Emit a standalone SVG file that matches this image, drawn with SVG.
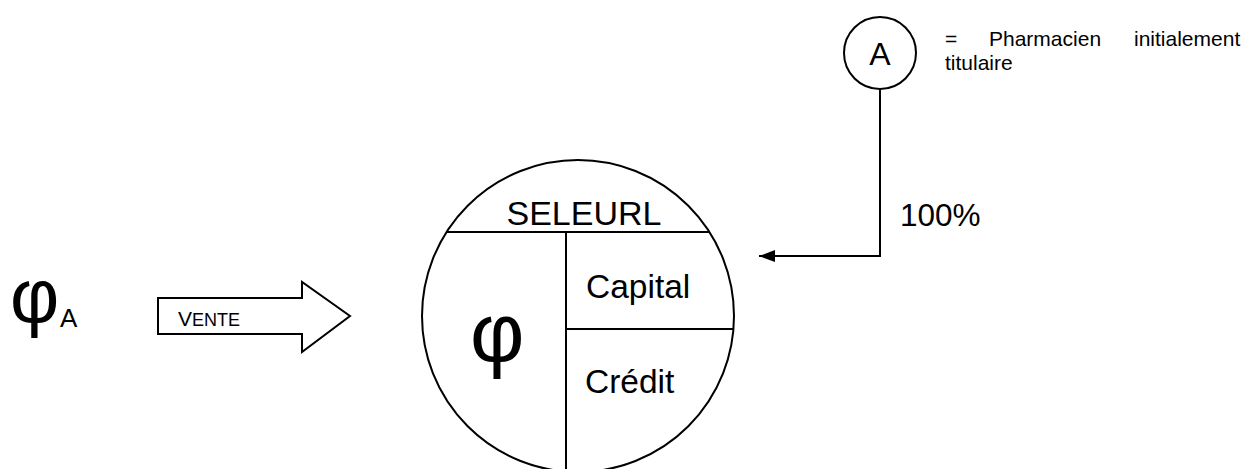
<svg xmlns="http://www.w3.org/2000/svg" width="1247" height="469" viewBox="0 0 1247 469">
<style>
text{font-family:"Liberation Sans",Arial,sans-serif;fill:#000}
.ln{fill:none;stroke:#000;stroke-width:2}
</style>
<defs>
<marker id="ah" markerWidth="16" markerHeight="12" refX="16" refY="6" orient="auto" markerUnits="userSpaceOnUse">
<path d="M0,0 L16,6 L0,12 Z" fill="#000"/>
</marker>
</defs>
<rect width="1247" height="469" fill="#fff"/>
<g id="phiA">
<text x="10" y="322" font-size="76">φ</text>
<text x="60" y="327" font-size="26">A</text>
</g>
<g id="vente">
<path class="ln" d="M158,298 H302 V282 L350,316 L302,352 V334 H158 Z" fill="#fff"/>
<text x="178" y="326" font-size="21">V<tspan font-size="18">ENTE</tspan></text>
</g>
<g id="seleurl">
<circle class="ln" cx="578" cy="316" r="156"/>
<line class="ln" x1="446" y1="232" x2="710" y2="232"/>
<line class="ln" x1="566" y1="232" x2="566" y2="472"/>
<line class="ln" x1="566" y1="329" x2="734" y2="329"/>
<text x="584" y="225" font-size="34" text-anchor="middle">SELEURL</text>
<text x="586" y="298" font-size="33.5">Capital</text>
<text x="585" y="393" font-size="33.5">Crédit</text>
<text x="470" y="362" font-size="84">φ</text>
</g>
<g id="A">
<circle class="ln" cx="880" cy="53" r="36"/>
<text x="880" y="65" font-size="32" text-anchor="middle">A</text>
<text font-size="21"><tspan x="945" y="46">=</tspan><tspan x="989" y="46">Pharmacien</tspan><tspan x="1134" y="46">initialement</tspan><tspan x="945" y="70">titulaire</tspan></text>
</g>
<g id="connectors">
<path class="ln" d="M880,89 V256 H759" marker-end="url(#ah)"/>
<text x="900" y="226" font-size="31.5">100%</text>
</g>
</svg>
